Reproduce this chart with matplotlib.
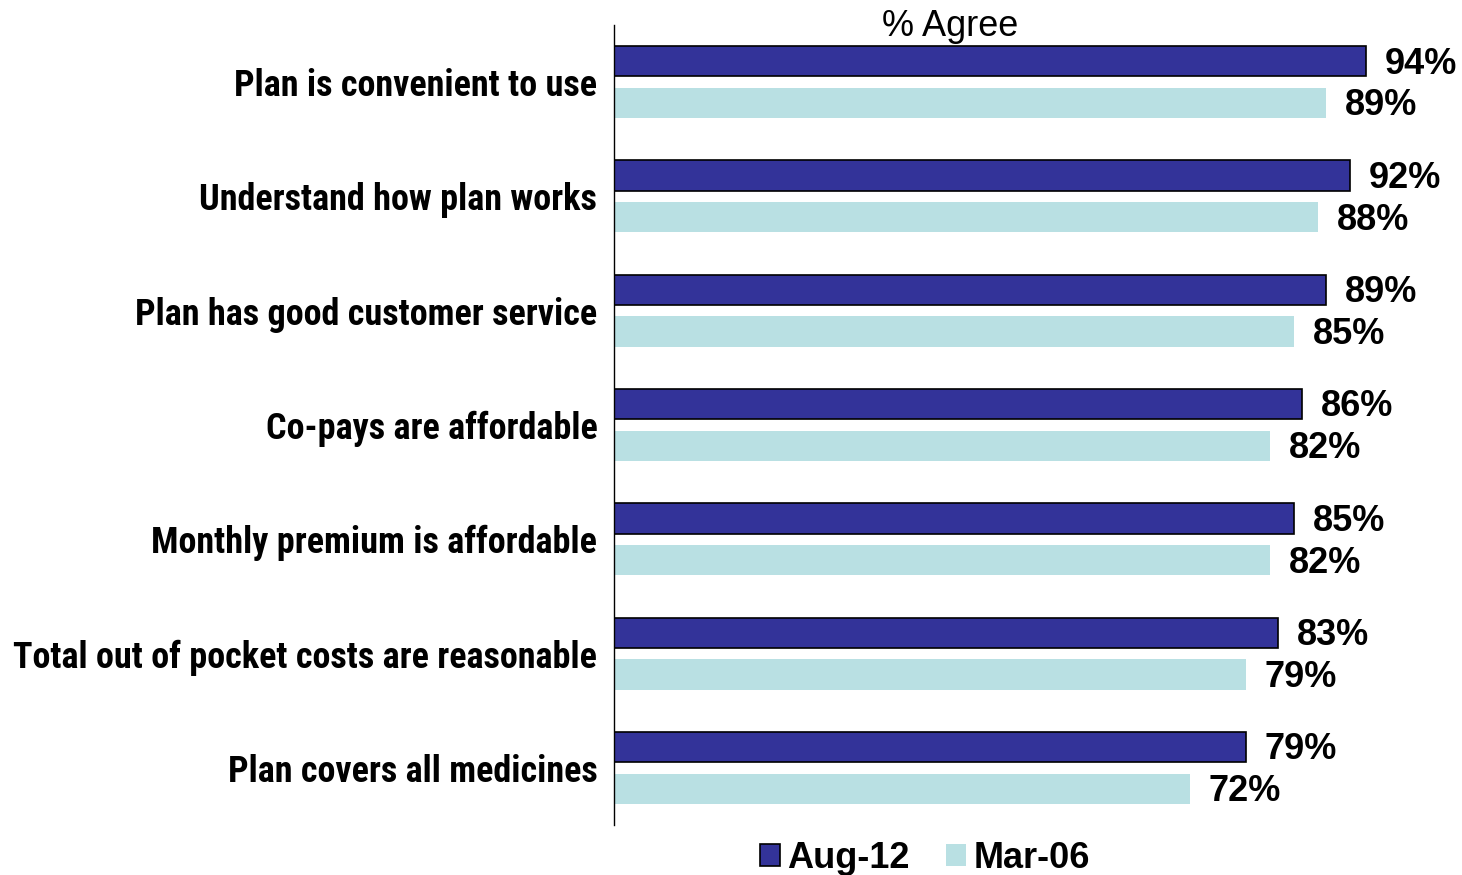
import numpy as np
import matplotlib.pyplot as plt

# Survey data: % agree by statement
statements = ['Plan is convenient to use', 'Understand how plan works',
              'Plan has good customer service', 'Co-pays are affordable',
              'Monthly premium is affordable', 'Total out of pocket costs are reasonable',
              'Plan covers all medicines']
aug12 = [94, 92, 89, 86, 85, 83, 79]
mar06 = [89, 88, 85, 82, 82, 79, 72]

dark = '#333399'
light = '#B9E0E3'

fig = plt.figure(figsize=(14.62, 8.75), dpi=100)
ax = fig.add_axes([614 / 1462, 50 / 875, 848 / 1462, 800 / 875])

y = np.arange(len(statements))
bh = 0.265
off = 0.183
b1 = ax.barh(y - off, aug12, height=bh, color=dark, edgecolor='black', linewidth=1.2, label='Aug-12')
b2 = ax.barh(y + off, mar06, height=bh, color=light, edgecolor='none', label='Mar-06')

# value labels
for bars, vals in [(b1, aug12), (b2, mar06)]:
    for rect, v in zip(bars, vals):
        ax.text(v + 2.3, rect.get_y() + rect.get_height() / 2 + 0.025, f'{v}%', va='center', ha='left',
                fontsize=26, fontweight='bold', family='Liberation Sans')

ax.set_xlim(0, 106)
ax.set_ylim(len(statements) - 0.5, -0.5)
ax.set_yticks(y)
ax.set_yticklabels(statements, fontsize=26, fontweight='bold', family='Roboto Condensed')
ax.tick_params(axis='y', length=0, pad=12)
ax.set_xticks([])
for s in ['top', 'right', 'bottom']:
    ax.spines[s].set_visible(False)
ax.spines['left'].set_linewidth(1.0)

fig.text(950 / 1462, 1 - 26 / 875, '% Agree', ha='center', va='center', fontsize=26,
         family='Liberation Sans')

fig.legend(handles=[b1, b2], labels=['Aug-12', 'Mar-06'], loc='center',
           bbox_to_anchor=(925 / 1462, 1 - 858 / 875), ncol=2, frameon=False,
           prop={'family': 'Liberation Sans', 'weight': 'bold', 'size': 26},
           handlelength=0.55, handleheight=0.55, handletextpad=0.2, columnspacing=1.0)

fig.savefig('out.png', dpi=100)
